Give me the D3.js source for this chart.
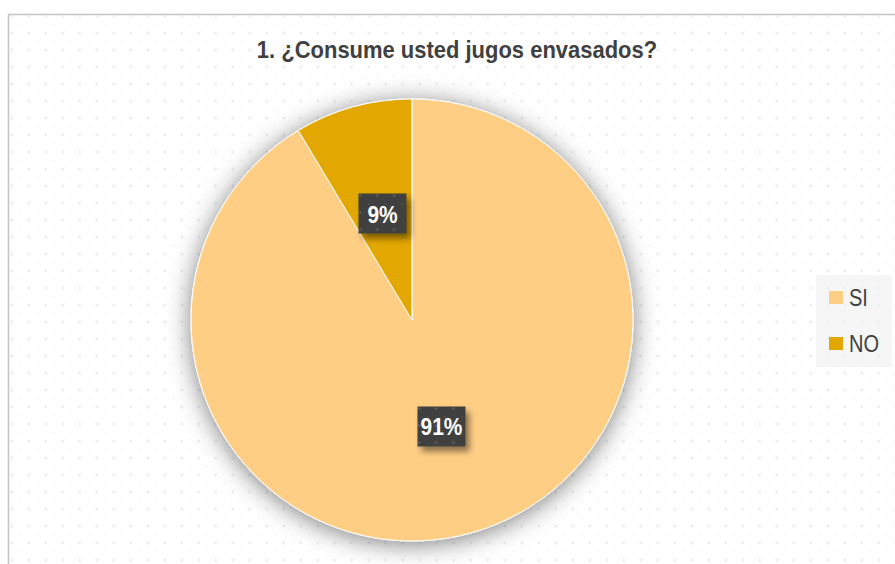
<!DOCTYPE html>
<html>
<head lang="es">
    <meta charset="UTF-8">
    <title>Jugos envasados</title>
    <script src="https://d3js.org/d3.v7.min.js" charset="utf-8"></script>
    <style type="text/css">
        body { margin: 0; background: #ffffff; }
        svg { display: block; }
        text { font-family: "Liberation Sans Narrow", "Arial Narrow", "Liberation Sans", Arial, sans-serif; }
    </style>
</head>
<body>

<svg id="svg" width="895" height="564"></svg>

<script>
    // datos
    var categorias = ["SI", "NO"];
    var valores = [91.4, 8.6];
    var colores = ["#FFCE85", "#E2A700"];
    var titulo = "1. ¿Consume usted jugos envasados?";

    var width = 895, height = 564;
    var cx = 412, cy = 320, radius = 221;

    var svg = d3.select("#svg");
    var defs = svg.append("defs");

    // la fuente original es condensada: se estrecha el texto
    function squeeze(sel, ratio) {
        sel.each(function () {
            var w = this.getComputedTextLength();
            d3.select(this).attr("textLength", w * ratio).attr("lengthAdjust", "spacingAndGlyphs");
        });
    }

    // patron de puntos del fondo
    var pat = defs.append("pattern")
            .attr("id", "dots")
            .attr("patternUnits", "userSpaceOnUse")
            .attr("x", 3.2).attr("y", 7.5)
            .attr("width", 17).attr("height", 17);
    pat.append("rect").attr("x", 7.5).attr("y", 7.5).attr("width", 2).attr("height", 2).attr("fill", "#d3e3f3");
    pat.append("rect").attr("x", -1).attr("y", -0.5).attr("width", 2).attr("height", 1.2).attr("fill", "#dce9f6");
    pat.append("rect").attr("x", 16).attr("y", 16.5).attr("width", 2).attr("height", 1.2).attr("fill", "#dce9f6");

    var sh = defs.append("filter").attr("id", "pieShadow")
            .attr("x", "-20%").attr("y", "-20%").attr("width", "140%").attr("height", "140%");
    sh.append("feDropShadow").attr("dx", 0).attr("dy", 3).attr("stdDeviation", 12)
            .attr("flood-color", "#000").attr("flood-opacity", 0.5);

    var lsh = defs.append("filter").attr("id", "labelShadow")
            .attr("x", "-30%").attr("y", "-30%").attr("width", "160%").attr("height", "160%");
    lsh.append("feDropShadow").attr("dx", 4).attr("dy", 5).attr("stdDeviation", 3)
            .attr("flood-color", "#000").attr("flood-opacity", 0.45);

    // fondo y borde
    svg.append("rect").attr("x", 8.5).attr("y", 14.5)
            .attr("width", width + 20).attr("height", height + 20)
            .attr("fill", "#ffffff").attr("stroke", "#c4c4c4").attr("stroke-width", 1.5);
    svg.append("rect").attr("x", 9.5).attr("y", 15.5)
            .attr("width", width).attr("height", height)
            .attr("fill", "url(#dots)");

    // titulo
    svg.append("text")
            .attr("x", 457).attr("y", 58)
            .attr("text-anchor", "middle")
            .style("font-size", "24px").style("font-weight", "bold")
            .style("fill", "#404040")
            .text(titulo)
            .call(squeeze, 0.915);

    // pastel
    var datos = categorias.map(function (c, i) { return {cat: c, val: valores[i], color: colores[i]}; });
    var pie = d3.pie().sort(null).value(function (d) { return d.val; });
    var arc = d3.arc().innerRadius(0).outerRadius(radius);
    var labelArc = d3.arc().innerRadius(radius * 0.5).outerRadius(radius * 0.5);
    var arcs = pie(datos);
    var total = d3.sum(valores);

    var g = svg.append("g").attr("transform", "translate(" + cx + "," + cy + ")");
    g.append("g").attr("filter", "url(#pieShadow)")
            .selectAll("path").data(arcs).enter().append("path")
            .attr("d", arc)
            .attr("fill", function (d) { return d.data.color; })
            .attr("stroke", "#ffffff").attr("stroke-width", 1);

    // etiquetas
    var boxW = 48, boxH = 40;
    var lab = g.selectAll(".lab").data(arcs).enter().append("g")
            .attr("class", "lab")
            .attr("transform", function (d) {
                var c = labelArc.centroid(d);
                return "translate(" + c[0] + "," + c[1] + ")";
            });
    lab.append("rect")
            .attr("x", -boxW / 2).attr("y", -boxH / 2)
            .attr("width", boxW).attr("height", boxH)
            .attr("fill", "#404040")
            .attr("filter", "url(#labelShadow)");
    lab.append("rect")
            .attr("x", -boxW / 2).attr("y", -boxH / 2)
            .attr("width", boxW).attr("height", boxH)
            .attr("fill", "url(#dots)").attr("opacity", 0.25);
    lab.append("text")
            .attr("text-anchor", "middle")
            .attr("y", 9)
            .style("font-size", "24px").style("font-weight", "bold")
            .style("fill", "#ffffff")
            .text(function (d) { return Math.round(d.data.val / total * 100) + "%"; })
            .call(squeeze, 0.87);

    // leyenda
    var leg = svg.append("g");
    leg.append("rect").attr("x", 816).attr("y", 275).attr("width", 76).attr("height", 92)
            .attr("fill", "#eeeeee").attr("opacity", 0.55);
    var items = leg.selectAll(".item").data(datos).enter().append("g")
            .attr("class", "item")
            .attr("transform", function (d, i) { return "translate(829," + (291 + i * 46) + ")"; });
    items.append("rect").attr("width", 14).attr("height", 13)
            .attr("fill", function (d) { return d.color; });
    items.append("text").attr("x", 20).attr("y", 15)
            .style("font-size", "23px").style("fill", "#404040")
            .text(function (d) { return d.cat; })
            .call(squeeze, 0.87);
</script>

</body>
</html>
